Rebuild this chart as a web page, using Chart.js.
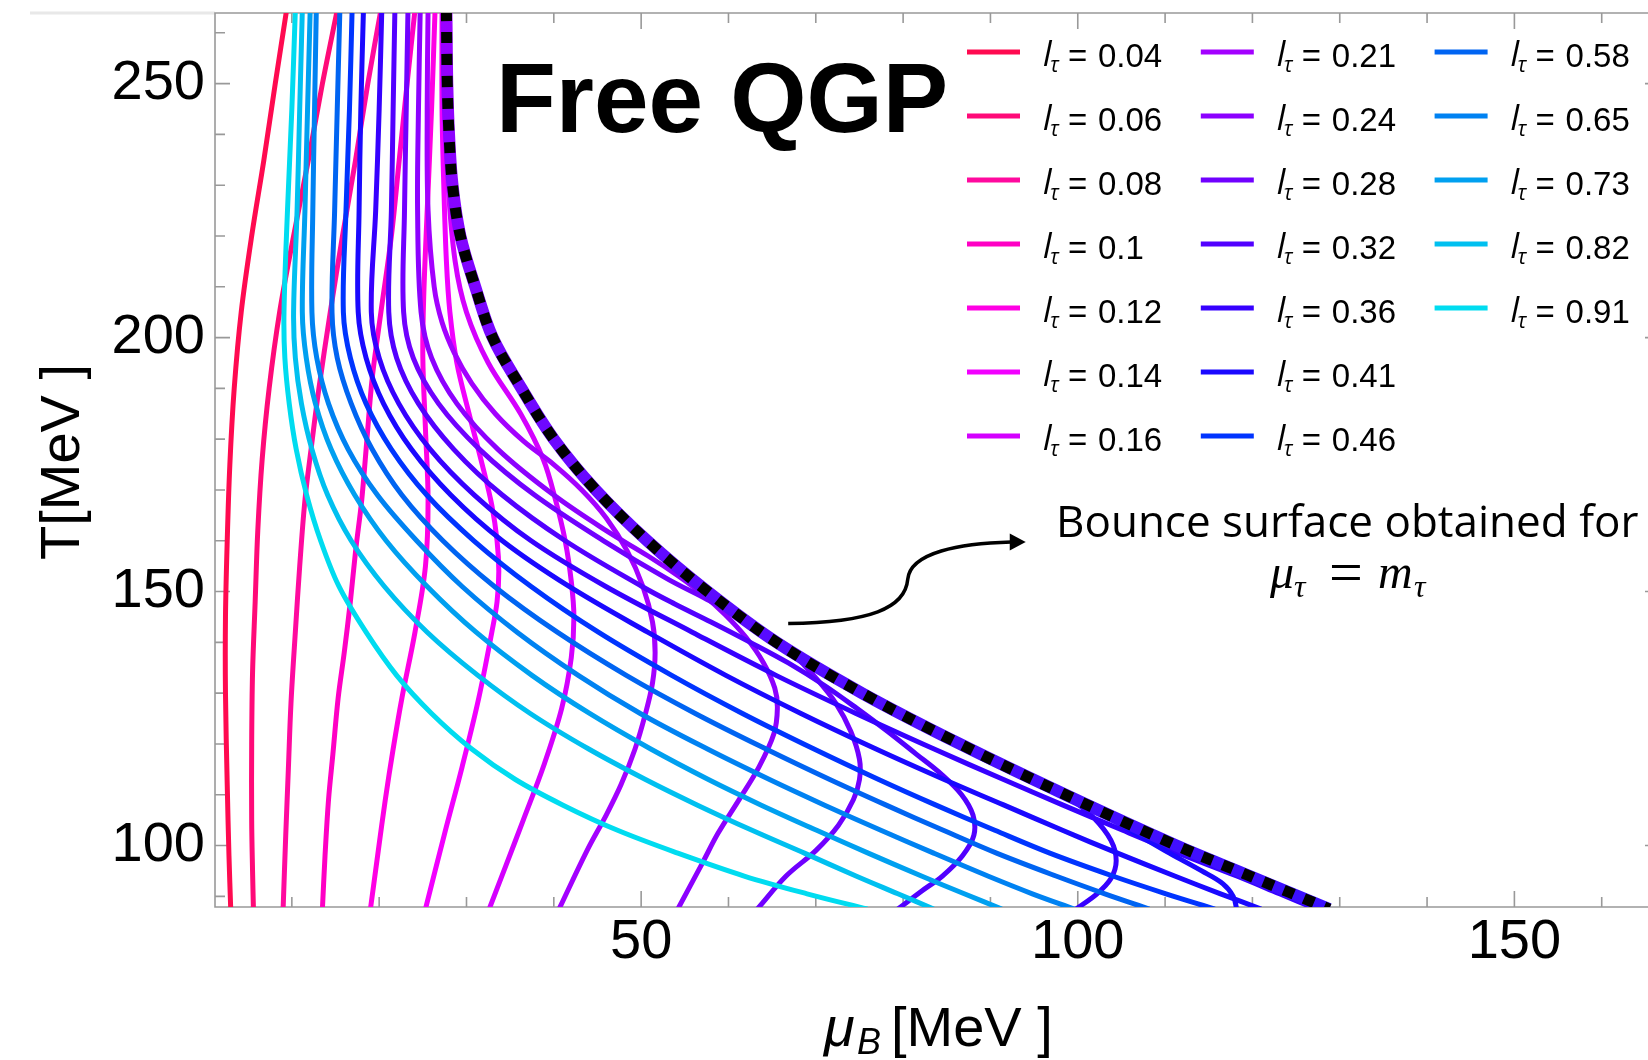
<!DOCTYPE html>
<html>
<head>
<meta charset="utf-8">
<script src="https://cdn.jsdelivr.net/npm/chart.js@4.4.1/dist/chart.umd.min.js"></script>
<style>
  html, body { margin: 0; padding: 0; background: #fff; }
  #wrap { width: 1648px; height: 1060px; position: relative; }
</style>
</head>
<body>
<div id="wrap"><canvas id="chart"></canvas></div>
<script>
// axis ranges
const muMin = 1.2, muMax = 165.3;
const tMin = 87.9, tMax = 263.9;
const muTicks = [50, 100, 150];
const tTicks = [100, 150, 200, 250];

const lLabels = ['0.04', '0.06', '0.08', '0.1', '0.12', '0.14', '0.16', '0.21', '0.24', '0.28',
                 '0.32', '0.36', '0.41', '0.46', '0.58', '0.65', '0.73', '0.82', '0.91'];
const lColors = ['#ff0a50', '#ff0a78', '#ff0a9e', '#ff00c4', '#ff00e4', '#f200ff', '#d400ff', '#a300ff',
                 '#8c00ff', '#7000ff', '#5200ff', '#3600ff', '#1a08ff', '#0034ff', '#0064f2', '#0082f2',
                 '#00a0f0', '#00c0f0', '#00dcf0'];

// each curve: [muB, T] pairs from top to bottom, null = break in the line
const c004 = [[9.4,264.5],[8.1,250],[6.8,235],[5.4,220],[4.2,205],[3.4,190],[2.9,175],[2.6,160],[2.4,145],[2.4,130],[2.6,112],[2.8,98],[3.0,87.5]];
const c006 = [[15.2,264.5],[13.5,250],[11.9,235],[10.2,220],[8.6,205],[7.4,190],[6.6,176],[6.1,162],[5.8,148],[5.5,134],[5.4,120],[5.4,105],[5.5,95],[5.6,87.5]];
const c008 = [[20.2,264.5],[18.7,250],[17.3,235],[15.8,220],[14.4,205],[13.1,190],[12.2,178],[11.5,168],[10.9,155],[10.4,142],[9.9,128],[9.6,115],[9.3,102],[9.0,87.5]];
const c010 = [[24.1,264.5],[23.2,250],[22.3,235],[21.4,220],[20.2,205],[19.2,192],[18.6,180],[18.0,168],[17.3,158],[16.7,148],[16.0,138],[15.3,129],[14.7,118],[14.2,109],[13.8,98],[13.5,87.5]];
const c012 = [[26.4,264.5],[26.0,245],[25.5,225],[25.1,208],[25.0,196],[25.3,182],[25.6,168],[25.3,155],[24.1,142],[22.6,129],[21.6,119],[20.7,109],[19.9,99],[19.0,87.5]];
const c014 = [[27.2,264.5],[27.2,245],[27.4,230],[27.7,215],[28.1,205],[28.9,195],[30.3,185],[31.8,175],[32.9,167],[33.5,160],[33.7,154],[33.5,148],[32.9,142],[31.4,129],[29.5,115.5],[27.5,102.4],[25.3,87.5]];
const c016 = [[27.5,264.5],[27.6,245],[27.9,230],[28.7,215],[30.0,205],[32.5,195],[36.2,185],[38.8,176],[40.2,168],[41.3,160],[42.0,152],[42.3,145],[42.0,137],[40.9,127],[38.9,116],[36.5,105],[34.5,96],[32.6,87.5]];
const c021 = [[25.6,264.5],[25.5,245],[25.6,225],[26.3,210],[27.2,203],[28.6,197],[30.6,191],[33.3,185],[36.6,179.5],[40.0,175],[43.2,170],[46.0,164.5],[48.4,158],[50.2,151],[51.3,144],[51.6,138],[51.3,132],[50.5,126],[49.3,119],[47.7,112],[46.0,106],[43.8,99],[40.6,87.5]];
const c024 = [[24.7,264.5],[24.5,245],[24.4,225],[24.8,205],[26.0,196],[28.9,187],[33.6,178],[40.0,169],[46.0,162],[50.8,157],[54.3,153],[57.0,149.5],[59.6,145.5],[62.0,141],[64.0,136],[65.3,131],[65.6,127],[65.2,122],[63.5,115.5],[61.2,109],[58.8,102.4],[57.0,96.5],[54.2,87.5]];
const c028 = [[23.3,264.5],[23.1,245],[22.9,225],[22.8,205],[23.9,196],[26.8,187],[31.5,178],[37.8,169],[45.7,160],[53.0,152.5],[57.5,148.5],[61.2,145],[64.4,141.5],[67.5,137.5],[70.0,133],[72.3,128],[74.0,122.5],[75.0,117],[75.0,113],[74.3,109],[72.6,104],[70.0,99],[66.6,94],[63.3,87.5]];
const c032 = [[21.8,264.5],[21.6,245],[21.4,225],[21.1,205],[22.0,196],[24.5,187],[28.55,178],[34.1,169],[41.3,160],[50.1,151],[53.8,147.6],[58.0,144],[62.5,140],[66.8,136],[71.0,131.5],[74.7,127],[78.2,122.5],[81.5,118],[84.4,114],[86.7,110],[88.0,106],[88.1,102],[86.8,98],[84.5,94],[82.1,91],[79.4,87.5]];
const c036 = [[20.3,264.5],[20.0,245],[19.6,225],[19.1,205],[20.0,196],[22.25,187],[25.85,178],[30.9,169],[37.4,160],[45.95,151],[55.85,142],[65.45,133.5],[74.6,126],[83.55,119],[91.5,113],[98.25,108],[105.15,103],[111.5,98.5],[118.2,94],[123.1,90.5],[127.3,87.5],
              null, [96.8,111.5],[99.3,109],[101.8,105.5],[103.8,101],[104.4,97],[103.8,93.5],[102.2,90.5],[99.8,87.5]];
const c041 = [[18.2,264.5],[17.9,245],[17.7,225],[17.6,205],[18.5,196],[20.5,187],[23.7,178],[28.2,169],[34.1,160],[41.75,151],[50.75,142],[59.7,133.5],[68.3,126],[76.9,119],[84.7,113],[91.5,108],[98.25,103],[104.55,98.5],[111.1,94],[116.35,90.5],[121.0,87.5],
              null, [102.5,106.5],[106.5,102.5],[110.5,98.5],[114.2,95],[116.6,92.5],[117.8,90],[118.2,87.5]];
const c046 = [[16.9,264.5],[16.6,245],[16.2,225],[15.9,205],[16.7,196],[18.5,187],[21.4,178],[25.45,169],[30.85,160],[37.4,151],[45.1,142],[53.5,133.5],[61.6,126],[69.8,119],[77.2,113],[83.7,108],[90.5,103],[96.8,98.5],[104.0,94],[110.1,90.5],[115.7,87.5]];
const c058 = [[15.5,264.5],[15.2,245],[14.9,225],[14.6,205],[15.2,196],[16.8,187],[19.2,178],[22.6,169],[27.3,160],[33.2,151],[40.4,142],[48.3,133.5],[56.2,126],[64.3,119],[71.6,113],[78.0,108],[84.6,103],[90.7,98.5],[97.5,94],[103.1,90.5],[108.2,87.5]];
const c065 = [[12.8,264.5],[12.6,245],[12.4,225],[12.3,205],[12.85,196],[14.2,187],[16.45,178],[19.8,169],[24.3,160],[29.5,151],[35.8,142],[42.8,133.5],[49.9,126],[57.6,119],[64.7,113],[70.95,108],[77.45,103],[83.5,98.5],[89.7,94],[94.8,90.5],[99.6,87.5]];
const c073 = [[12.1,264.5],[11.8,245],[11.5,225],[11.2,205],[11.65,196],[12.7,187],[14.5,178],[17.2,169],[20.8,160],[25.5,151],[31.1,142],[37.5,133.5],[44.1,126],[51.1,119],[57.7,113],[63.7,108],[70.1,103],[76.0,98.5],[82.1,94],[87.0,90.5],[91.3,87.5]];
const c082 = [[11.2,264.5],[10.9,245],[10.6,225],[10.2,205],[10.4,196],[11.1,187],[12.3,178],[14.1,169],[16.8,160],[20.6,151],[25.5,142],[31.3,133.5],[37.3,126],[44.0,119],[50.5,113],[56.4,108],[62.7,103],[68.7,98.5],[74.6,94],[79.4,90.5],[83.5,87.5]];
const c091 = [[10.4,264.5],[10.0,245],[9.5,225],[9.1,205],[9.2,196],[9.7,187],[10.5,178],[11.7,169],[13.3,160],[15.4,151],[18.5,142],[22.0,133.5],[26.0,126],[30.6,119],[35.6,113],[41.0,108],[47.3,103],[54.2,98.5],[61.8,94],[69.0,90.5],[75.9,87.5]];

// bounce surface (mu_tau = m_tau)
const bounce = [[27.7,264.5],[27.8,250],[28.0,240],[28.4,230],[29.3,220],[31.0,210],[33.0,200],[36.3,190],[40.0,180],[44.8,170],[50.7,160],[57.6,150],[65.5,140],[75.3,130],[86.5,120],[98.6,110],[111.3,100],[119.0,94.5],[128.8,87.5]];

const curves = [c004, c006, c008, c010, c012, c014, c016, c021, c024, c028, c032, c036, c041, c046, c058, c065, c073, c082, c091];

// arrow of the note, in data units
const arrowPath = [[66.84,143.7],[76.23,143.96],[80.24,146.71],[80.53,152.42],[80.81,157.74],[86.54,159.51],[92.38,159.76]];
const arrowTip = [94.04, 159.76];

function toPoints(arr) {
    return arr.map(p => p ? { x: p[0], y: p[1] } : { x: null, y: null });
}

const datasets = curves.map((c, i) => ({
    label: 'l = ' + lLabels[i],
    data: toPoints(c),
    showLine: true,
    borderColor: lColors[i],
    borderWidth: 5,
    pointRadius: 0,
    tension: 0.35,
    spanGaps: false,
    order: 100 - i
}));

// purple band of curves touching the surface
datasets.push({
    label: 'band',
    data: toPoints(bounce),
    showLine: true,
    borderColor: ctx => {
        const a = ctx.chart.chartArea;
        if (!a) return '#7a00ff';
        const g = ctx.chart.ctx.createLinearGradient(0, a.top, 0, a.bottom);
        g.addColorStop(0, '#9a00ff');
        g.addColorStop(1, '#3a10ff');
        return g;
    },
    borderWidth: 12,
    pointRadius: 0,
    tension: 0.35,
    order: 1
});

datasets.push({
    label: 'bounce',
    data: toPoints(bounce),
    showLine: true,
    borderColor: '#000',
    borderWidth: 11,
    borderDash: [11, 11],
    borderCapStyle: 'butt',
    pointRadius: 0,
    tension: 0.35,
    order: 0
});

function drawFrame(chart) {
    const { ctx, chartArea: a, scales: { x, y } } = chart;
    ctx.save();
    // faint line left of the frame top
    ctx.strokeStyle = '#e8e8e8';
    ctx.lineWidth = 3;
    ctx.beginPath();
    ctx.moveTo(30, a.top);
    ctx.lineTo(a.left, a.top);
    ctx.stroke();

    ctx.strokeStyle = '#999';
    ctx.lineWidth = 1.6;
    ctx.beginPath();
    ctx.moveTo(a.right, a.top);
    ctx.lineTo(a.left, a.top);
    ctx.lineTo(a.left, a.bottom);
    ctx.lineTo(a.right, a.bottom);
    for (let v = 10; v <= 160; v += 10) {
        const px = x.getPixelForValue(v);
        const len = v % 50 === 0 ? 16 : 10;
        ctx.moveTo(px, a.bottom);
        ctx.lineTo(px, a.bottom - len);
        ctx.moveTo(px, a.top);
        ctx.lineTo(px, a.top + len);
    }
    for (let v = 90; v <= 260; v += 10) {
        const py = y.getPixelForValue(v);
        const len = v % 50 === 0 ? 15 : 10;
        ctx.moveTo(a.left, py);
        ctx.lineTo(a.left + len, py);
        if (v % 50 === 0) {
            ctx.moveTo(a.right, py);
            ctx.lineTo(a.right - 3, py);
        }
    }
    ctx.stroke();
    ctx.restore();
}

function drawArrow(chart) {
    const { ctx, scales: { x, y } } = chart;
    const p = arrowPath.map(q => [x.getPixelForValue(q[0]), y.getPixelForValue(q[1])]);
    const tip = [x.getPixelForValue(arrowTip[0]), y.getPixelForValue(arrowTip[1])];
    ctx.save();
    ctx.strokeStyle = '#000';
    ctx.lineWidth = 3.5;
    ctx.beginPath();
    ctx.moveTo(p[0][0], p[0][1]);
    ctx.bezierCurveTo(p[1][0], p[1][1], p[2][0], p[2][1], p[3][0], p[3][1]);
    ctx.bezierCurveTo(p[4][0], p[4][1], p[5][0], p[5][1], p[6][0], p[6][1]);
    ctx.stroke();
    ctx.fillStyle = '#000';
    ctx.beginPath();
    ctx.moveTo(tip[0], tip[1]);
    ctx.lineTo(tip[0] - 16, tip[1] - 8.5);
    ctx.lineTo(tip[0] - 16, tip[1] + 8.5);
    ctx.closePath();
    ctx.fill();
    ctx.restore();
}

function drawTexts(chart) {
    const ctx = chart.ctx;
    ctx.save();
    ctx.fillStyle = '#000';
    ctx.textBaseline = 'alphabetic';
    ctx.textAlign = 'left';

    ctx.font = 'bold 98px "Liberation Sans", Arial, sans-serif';
    ctx.fillText('Free QGP', 496, 132);

    // axis titles
    ctx.font = '56px "Liberation Sans", Arial, sans-serif';
    ctx.save();
    ctx.translate(79, 462);
    ctx.rotate(-Math.PI / 2);
    ctx.textAlign = 'center';
    ctx.fillText('T[MeV ]', 0, 0);
    ctx.restore();

    ctx.font = 'italic 56px "Liberation Sans", Arial, sans-serif';
    ctx.fillText('μ', 824, 1046);
    ctx.font = 'italic 36px "Liberation Sans", Arial, sans-serif';
    ctx.fillText('B', 857, 1054);
    ctx.font = '56px "Liberation Sans", Arial, sans-serif';
    ctx.fillText('[MeV ]', 891, 1046);

    // note about the bounce surface
    ctx.font = '44px "Open Sans", sans-serif';
    ctx.fillText('Bounce surface obtained for', 1056, 537);
    ctx.font = 'italic 48px "Liberation Serif", serif';
    ctx.fillText('μ', 1270, 588);
    ctx.fillText('m', 1378, 588);
    ctx.font = 'italic 32px "Liberation Serif", serif';
    ctx.fillText('τ', 1294, 597);
    ctx.fillText('τ', 1414, 597);
    ctx.font = '60px "Liberation Serif", serif';
    ctx.fillText('=', 1329, 592);
    ctx.restore();
}

function drawLegend(chart) {
    const ctx = chart.ctx;
    ctx.save();
    lLabels.forEach((lab, i) => {
        const col = i < 7 ? 0 : (i < 14 ? 1 : 2);
        const row = i - [0, 7, 14][col];
        const x0 = 967 + col * 233.8;
        const y0 = 52 + row * 64;
        ctx.strokeStyle = lColors[i];
        ctx.lineWidth = 5;
        ctx.beginPath();
        ctx.moveTo(x0, y0);
        ctx.lineTo(x0 + 53, y0);
        ctx.stroke();

        ctx.fillStyle = '#000';
        ctx.textAlign = 'left';
        ctx.textBaseline = 'alphabetic';
        ctx.font = 'italic 34px "Open Sans", sans-serif';
        ctx.fillText('l', x0 + 76, y0 + 14);
        ctx.font = 'italic 21px "Open Sans", sans-serif';
        ctx.fillText('τ', x0 + 83, y0 + 20);
        ctx.font = '33px "Liberation Sans", Arial, sans-serif';
        ctx.fillText('=', x0 + 101, y0 + 15);
        ctx.fillText(lab, x0 + 131, y0 + 15);
    });
    ctx.restore();
}

const extras = {
    id: 'extras',
    beforeDatasetsDraw(chart) { drawFrame(chart); },
    afterDraw(chart) {
        drawArrow(chart);
        drawTexts(chart);
        drawLegend(chart);
    }
};

new Chart(document.getElementById('chart'), {
    type: 'scatter',
    data: { datasets },
    options: {
        responsive: true,
        maintainAspectRatio: false,
        devicePixelRatio: 1,
        animation: false,
        events: [],
        layout: { autoPadding: false, padding: { top: 13, right: 0, left: 0, bottom: 0 } },
        plugins: {
            legend: { display: false },
            tooltip: { enabled: false }
        },
        scales: {
            x: {
                type: 'linear',
                min: muMin,
                max: muMax,
                grid: { display: false, drawTicks: false },
                border: { display: false },
                ticks: { font: { family: 'Liberation Sans', size: 56 }, color: '#000', padding: 2, maxRotation: 0, autoSkip: false },
                afterBuildTicks: s => { s.ticks = muTicks.map(v => ({ value: v })); },
                afterFit: s => {
                    s.height = 153;
                    s.paddingLeft = 0;
                    s.paddingRight = 0;
                }
            },
            y: {
                type: 'linear',
                min: tMin,
                max: tMax,
                grid: { display: false, drawTicks: false },
                border: { display: false },
                ticks: { font: { family: 'Liberation Sans', size: 56 }, color: '#000', padding: 10, autoSkip: false },
                afterBuildTicks: s => { s.ticks = tTicks.map(v => ({ value: v })); },
                afterFit: s => {
                    s.width = 215;
                    s.paddingTop = 0;
                    s.paddingBottom = 0;
                }
            }
        }
    },
    plugins: [extras]
});
</script>
</body>
</html>
